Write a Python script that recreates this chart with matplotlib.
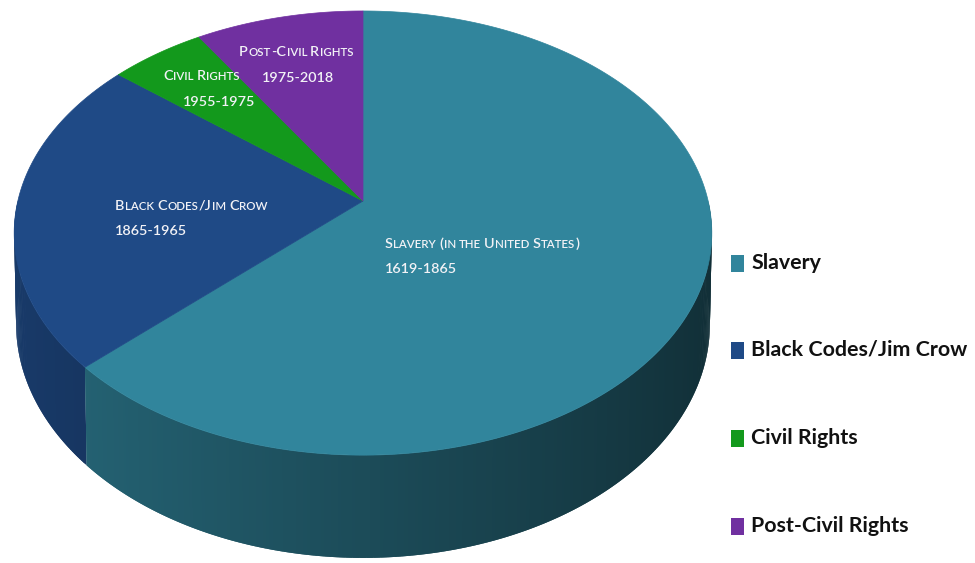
import numpy as np
import matplotlib.pyplot as plt
from matplotlib import font_manager
from matplotlib.collections import PolyCollection
from matplotlib.patches import Polygon, Rectangle

# eras of the timeline, in drawing order (clockwise from 12 o'clock)
periods = ['Slavery', 'Black Codes/Jim Crow', 'Civil Rights', 'Post-Civil Rights']
slice_titles = ['Slavery (in the United States)', 'Black Codes/Jim Crow',
                'Civil Rights', 'Post-Civil Rights']
year_ranges = ['1619-1865', '1865-1965', '1955-1975', '1975-2018']
span_years = [246, 90, 20, 35]
colors = ['#31859C', '#1F4A86', '#13991C', '#7030A0']

installed = {f.name for f in font_manager.fontManager.ttflist}
FONT = next(f for f in ['Liberation Sans Narrow', 'Lato', 'DejaVu Sans'] if f in installed)
LABEL_COLOR = '#F2F2F6'

# perspective camera for the 3d pie (pixel space)
FOCAL = 1857.0
DIST = 5.38
TILT = np.arcsin(0.63)
THICK = 0.347
BOTTOM_R = 1.035
APEX = (363.0, 201.0)


def project(x, y, z):
    c, s = np.cos(TILT), np.sin(TILT)
    depth = DIST + c * z - s * y
    px = APEX[0] + FOCAL * x / depth
    py = APEX[1] - FOCAL * (c * y + s * z) / depth
    return px, py


def rim(phi, radius=1.0, y=0.0):
    phi = np.radians(phi)
    return project(radius * np.sin(phi), y * np.ones_like(phi), radius * np.cos(phi))


def shade(hex_color, f):
    rgb = np.array([int(hex_color[i:i + 2], 16) for i in (1, 3, 5)]) / 255.0
    return tuple(np.clip(rgb * f, 0, 1))


fig = plt.figure(figsize=(9.75, 5.63), dpi=100)
ax = fig.add_axes([0, 0, 1, 1])
ax.set_xlim(0, 975)
ax.set_ylim(563, 0)
ax.axis('off')
renderer = fig.canvas.get_renderer()

bounds = np.concatenate([[0], np.cumsum(span_years)]) / sum(span_years) * 360.0

# outer wall: overlapping thin strips painted back to front
strips = []
for i, col in enumerate(colors):
    a0, a1 = max(bounds[i], 90.0), min(bounds[i + 1], 270.0)
    if a1 <= a0:
        continue
    starts = np.arange(a0, a1, 0.5)
    for p in starts:
        q = min(p + 1.0, a1)
        seg = np.linspace(p, q, 4)
        tx, ty = rim(seg)
        bx, by = rim(seg[::-1], BOTTOM_R, -THICK)
        mid = np.radians((p + q) / 2)
        f = 0.57 - 0.22 * np.sin(mid)
        strips.append((np.cos(mid), list(zip(np.r_[tx, bx], np.r_[ty, by])), shade(col, f)))
strips.sort(key=lambda s: -s[0])
wall = PolyCollection([s[1] for s in strips], facecolors=[s[2] for s in strips],
                      edgecolors='none', linewidths=0, zorder=1)
ax.add_collection(wall)

# top faces
for i, col in enumerate(colors):
    arc = np.linspace(bounds[i], bounds[i + 1], 200)
    ax_, ay_ = rim(arc)
    pts = np.column_stack([np.r_[APEX[0], ax_], np.r_[APEX[1], ay_]])
    ax.add_patch(Polygon(pts, closed=True, facecolor=col, edgecolor=col,
                         linewidth=0.5, zorder=2))


def fit_size(text, width, weight):
    t = ax.text(0, 0, text, fontsize=10, family=FONT, weight=weight)
    w = t.get_window_extent(renderer).width
    t.remove()
    return 10 * width / w


label_weight = 'normal' if 'Narrow' in FONT else 'semibold'
label_size = fit_size('1619-1865', 72, label_weight)


def small_caps(x, y, text, size, ratio=0.8):
    for word in text.split(' '):
        runs = []
        for ch in word:
            big = not ch.islower()
            if runs and runs[-1][0] == big:
                runs[-1][1] += ch
            else:
                runs.append([big, ch])
        for big, chunk in runs:
            t = ax.text(x, y, chunk.upper(), fontsize=size if big else size * ratio,
                        family=FONT, weight=label_weight, color=LABEL_COLOR,
                        va='baseline', ha='left', zorder=5)
            x += t.get_window_extent(renderer).width + 0.6
        x += size * 0.22


label_spots = [(385, 248, 385, 273), (115, 210, 115, 235),
               (163, 80, 183, 106), (239, 56, 262, 82)]
for title, yrs, (x1, y1, x2, y2) in zip(slice_titles, year_ranges, label_spots):
    small_caps(x1, y1, title, label_size)
    ax.text(x2, y2, yrs, fontsize=label_size, family=FONT, weight=label_weight,
            color=LABEL_COLOR, va='baseline', ha='left', zorder=5)

# legend
legend_size = fit_size('Black Codes/Jim Crow', 216, 'bold')
legend_y = [263, 350, 438, 526]
for name, col, ly in zip(periods, colors, legend_y):
    ax.add_patch(Rectangle((731, ly - 8.5), 13, 17, facecolor=col, edgecolor='none'))
    ax.text(751, ly, name, fontsize=legend_size, family=FONT, weight='bold',
            color='#111111', va='center', ha='left')

fig.savefig('out.png', dpi=100)
